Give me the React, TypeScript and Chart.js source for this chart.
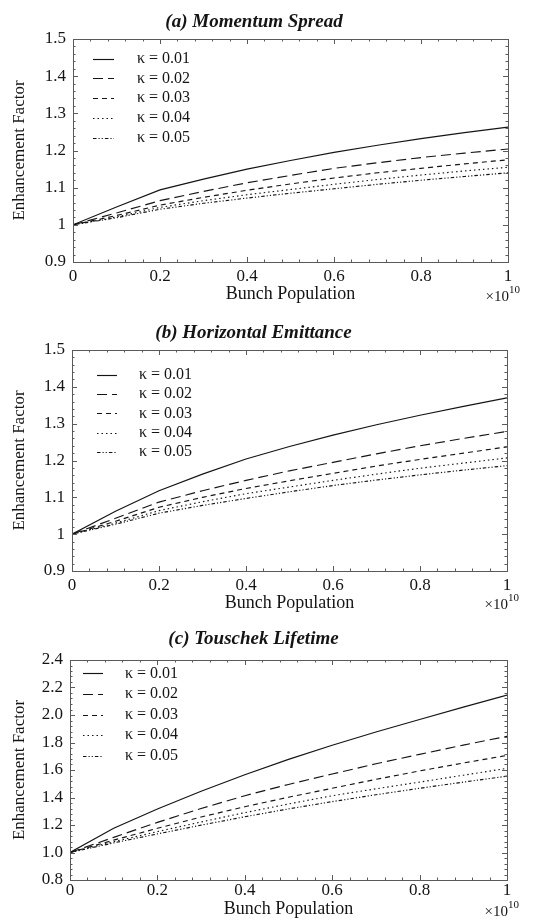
import React, { useEffect, useRef } from "react";
import { Chart, registerables } from "chart.js";

Chart.register(...registerables);

// ---------- data ----------
const bunchPopulation = [0, 0.1, 0.2, 0.3, 0.4, 0.5, 0.6, 0.7, 0.8, 0.9, 1.0];
const kappaLabels = ["κ = 0.01", "κ = 0.02", "κ = 0.03", "κ = 0.04", "κ = 0.05"];
const xTickLabels = ["0", "0.2", "0.4", "0.6", "0.8", "1"];
const yTickLabelsA = ["0.9", "1", "1.1", "1.2", "1.3", "1.4", "1.5"];
const yTickLabelsB = ["0.9", "1", "1.1", "1.2", "1.3", "1.4", "1.5"];
const yTickLabelsC = ["0.8", "1.0", "1.2", "1.4", "1.6", "1.8", "2.0", "2.2", "2.4"];

const momentumK1 = [1.0, 1.048, 1.094, 1.123, 1.15, 1.173, 1.195, 1.214, 1.232, 1.248, 1.263];
const momentumK2 = [1.0, 1.032, 1.065, 1.09, 1.113, 1.133, 1.152, 1.167, 1.181, 1.193, 1.204];
const momentumK3 = [1.0, 1.025, 1.053, 1.074, 1.093, 1.11, 1.126, 1.14, 1.152, 1.164, 1.175];
const momentumK4 = [1.0, 1.021, 1.047, 1.065, 1.081, 1.095, 1.109, 1.122, 1.134, 1.145, 1.155];
const momentumK5 = [1.0, 1.019, 1.042, 1.058, 1.072, 1.085, 1.097, 1.109, 1.12, 1.13, 1.14];

const emittanceK1 = [1.0, 1.062, 1.118, 1.163, 1.204, 1.238, 1.269, 1.297, 1.323, 1.347, 1.37];
const emittanceK2 = [1.0, 1.043, 1.087, 1.118, 1.146, 1.172, 1.195, 1.218, 1.24, 1.26, 1.279];
const emittanceK3 = [1.0, 1.035, 1.073, 1.1, 1.124, 1.145, 1.165, 1.185, 1.203, 1.22, 1.237];
const emittanceK4 = [1.0, 1.03, 1.064, 1.088, 1.11, 1.128, 1.146, 1.163, 1.179, 1.193, 1.207];
const emittanceK5 = [1.0, 1.027, 1.057, 1.078, 1.097, 1.115, 1.132, 1.147, 1.161, 1.174, 1.186];

const touschekK1 = [1.0, 1.176, 1.316, 1.445, 1.566, 1.677, 1.78, 1.876, 1.967, 2.057, 2.145];
const touschekK2 = [1.0, 1.11, 1.219, 1.32, 1.413, 1.495, 1.571, 1.645, 1.714, 1.781, 1.845];
const touschekK3 = [1.0, 1.09, 1.176, 1.258, 1.333, 1.402, 1.467, 1.532, 1.593, 1.651, 1.706];
const touschekK4 = [1.0, 1.078, 1.152, 1.222, 1.29, 1.353, 1.413, 1.463, 1.512, 1.562, 1.612];
const touschekK5 = [1.0, 1.07, 1.135, 1.199, 1.26, 1.317, 1.37, 1.42, 1.467, 1.512, 1.555];

// ---------- styles ----------
const SERIF = "'Liberation Serif', 'DejaVu Serif', serif";
const INK = "#141414";
const dashes: number[][] = [[], [10, 5], [5, 4], [1.5, 3], [3.5, 2, 1.2, 2, 1.2, 2]];

// ---------- plugins ----------
const frameTicksPlugin = {
  id: "frameTicks",
  afterDatasetsDraw(chart: any, _args: any, opts: any) {
    const { ctx, chartArea: a, scales } = chart;
    ctx.save();
    ctx.strokeStyle = opts.color || "#555";
    ctx.lineWidth = 1;
    ctx.strokeRect(Math.round(a.left) + 0.5, Math.round(a.top) + 0.5, Math.round(a.right - a.left), Math.round(a.bottom - a.top));
    const sub = opts.sub || 5;
    const major = opts.major || 5;
    const minor = opts.minor || 2.5;
    const run = (scale: any, horizontal: boolean) => {
      const vals = scale.ticks.map((t: any) => t.value);
      const mark = (v: number, len: number) => {
        ctx.beginPath();
        const p = Math.round(scale.getPixelForValue(v)) + 0.5;
        if (horizontal) {
          ctx.moveTo(p, a.bottom); ctx.lineTo(p, a.bottom - len);
          ctx.moveTo(p, a.top); ctx.lineTo(p, a.top + len);
        } else {
          ctx.moveTo(a.left, p); ctx.lineTo(a.left + len, p);
          ctx.moveTo(a.right, p); ctx.lineTo(a.right - len, p);
        }
        ctx.stroke();
      };
      for (let i = 0; i < vals.length; i++) {
        mark(vals[i], major);
        if (i < vals.length - 1) {
          const step = (vals[i + 1] - vals[i]) / sub;
          for (let k = 1; k < sub; k++) mark(vals[i] + k * step, minor);
        }
      }
    };
    run(scales.x, true);
    run(scales.y, false);
    ctx.restore();
  },
};

const innerLegendPlugin = {
  id: "innerLegend",
  afterDraw(chart: any, _args: any, opts: any) {
    const { ctx } = chart;
    ctx.save();
    chart.data.datasets.forEach((ds: any, i: number) => {
      const y = opts.y + i * opts.dy;
      ctx.strokeStyle = ds.borderColor;
      ctx.lineWidth = ds.borderWidth;
      ctx.setLineDash(ds.borderDash || []);
      ctx.beginPath();
      ctx.moveTo(opts.x1, Math.round(y) + 0.5);
      ctx.lineTo(opts.x2, Math.round(y) + 0.5);
      ctx.stroke();
      ctx.setLineDash([]);
      ctx.fillStyle = INK;
      ctx.font = `16px ${SERIF}`;
      ctx.textBaseline = "middle";
      ctx.textAlign = "left";
      ctx.fillText(ds.label, opts.textX, y);
    });
    ctx.restore();
  },
};

const exponentPlugin = {
  id: "exponent",
  afterDraw(chart: any, _args: any, opts: any) {
    const { ctx, chartArea: a } = chart;
    ctx.save();
    ctx.fillStyle = INK;
    ctx.textBaseline = "middle";
    ctx.font = `15px ${SERIF}`;
    ctx.textAlign = "right";
    ctx.fillText(opts.base, a.right + 1, a.bottom + opts.dy);
    ctx.font = `11px ${SERIF}`;
    ctx.textAlign = "left";
    ctx.fillText(opts.power, a.right + 1, a.bottom + opts.dy - 7);
    ctx.restore();
  },
};

// ---------- panels ----------
type PanelCfg = {
  top: number;
  height: number;
  title: string;
  series: number[][];
  yMin: number;
  yMax: number;
  yStep: number;
  yLabels: string[];
  plotLeft: number;
  plotRight: number;
  plotTop: number;
  plotBottom: number;
  axisHeight: number;
  titleCenter: number;
  tickPad: number;
  expDy: number;
  legend: { x1: number; x2: number; textX: number; y: number; dy: number };
};

const panels: PanelCfg[] = [
  {
    top: 0, height: 305, title: "(a) Momentum Spread",
    series: [momentumK1, momentumK2, momentumK3, momentumK4, momentumK5],
    yMin: 0.9, yMax: 1.5, yStep: 0.1, yLabels: yTickLabelsA,
    plotLeft: 73, plotRight: 508, plotTop: 39, plotBottom: 262, axisHeight: 43,
    titleCenter: 22, tickPad: 4.6, expDy: 35,
    legend: { x1: 93, x2: 114, textX: 137, y: 58.5, dy: 19.8 },
  },
  {
    top: 305, height: 310, title: "(b) Horizontal Emittance",
    series: [emittanceK1, emittanceK2, emittanceK3, emittanceK4, emittanceK5],
    yMin: 0.9, yMax: 1.5, yStep: 0.1, yLabels: yTickLabelsB,
    plotLeft: 72, plotRight: 507, plotTop: 45, plotBottom: 266, axisHeight: 43,
    titleCenter: 28, tickPad: 4.6, expDy: 34,
    legend: { x1: 97, x2: 117, textX: 139, y: 70, dy: 19.2 },
  },
  {
    top: 615, height: 305, title: "(c) Touschek Lifetime",
    series: [touschekK1, touschekK2, touschekK3, touschekK4, touschekK5],
    yMin: 0.8, yMax: 2.4, yStep: 0.2, yLabels: yTickLabelsC,
    plotLeft: 70, plotRight: 507, plotTop: 45, plotBottom: 265, axisHeight: 40,
    titleCenter: 24, tickPad: 0.8, expDy: 32,
    legend: { x1: 83, x2: 103, textX: 125, y: 58.3, dy: 20.6 },
  },
];

function Panel({ cfg }: { cfg: PanelCfg }) {
  const ref = useRef<HTMLCanvasElement | null>(null);
  useEffect(() => {
    if (!ref.current) return;
    const titleSize = 19;
    const titleLH = titleSize * 1.2;
    const titleTop = cfg.titleCenter - titleLH / 2;
    const titleBottom = cfg.plotTop - titleTop - titleLH;
    const chart = new Chart(ref.current, {
      type: "line",
      data: {
        datasets: cfg.series.map((s, i) => ({
          label: kappaLabels[i],
          data: s.map((v, j) => ({ x: bunchPopulation[j], y: v })),
          borderColor: INK,
          borderWidth: 1.15,
          borderDash: dashes[i],
          pointRadius: 0,
          tension: 0,
          fill: false,
        })),
      },
      options: {
        responsive: false,
        animation: false,
        events: [],
        layout: {
          padding: {
            left: 0,
            right: 533 - cfg.plotRight,
            top: 0,
            bottom: Math.max(0, cfg.height - cfg.plotBottom - cfg.axisHeight),
          },
        },
        plugins: {
          legend: { display: false },
          tooltip: { enabled: false },
          title: {
            display: true,
            text: cfg.title,
            color: INK,
            font: { family: SERIF, size: titleSize, weight: "bold", style: "italic", lineHeight: 1.2 },
            padding: { top: titleTop, bottom: titleBottom },
          },
          frameTicks: { color: "#5a5a5a", sub: 5, major: 5, minor: 2.5 },
          innerLegend: cfg.legend,
          exponent: { base: "×10", power: "10", dy: cfg.expDy },
        } as any,
        scales: {
          x: {
            type: "linear",
            min: 0,
            max: 1,
            grid: { display: false, drawTicks: false },
            border: { display: false },
            ticks: {
              stepSize: 0.2,
              autoSkip: false,
              maxRotation: 0,
              padding: cfg.tickPad,
              color: INK,
              font: { family: SERIF, size: 17, lineHeight: 1.2 },
              callback: (_v: any, i: number) => xTickLabels[i],
            },
            title: {
              display: true,
              text: "Bunch Population",
              color: INK,
              font: { family: SERIF, size: 18, lineHeight: 1.2 },
              padding: 0,
            },
            afterFit: (s: any) => { s.height = cfg.axisHeight; },
          },
          y: {
            type: "linear",
            min: cfg.yMin,
            max: cfg.yMax,
            grid: { display: false, drawTicks: false },
            border: { display: false },
            ticks: {
              stepSize: cfg.yStep,
              autoSkip: false,
              padding: 7,
              color: INK,
              font: { family: SERIF, size: 17, lineHeight: 1.2 },
              callback: (_v: any, i: number) => cfg.yLabels[i],
            },
            title: {
              display: true,
              text: "Enhancement Factor",
              color: INK,
              font: { family: SERIF, size: 17, lineHeight: 1.2 },
              padding: { top: 9, bottom: 0 },
            },
            afterFit: (s: any) => { s.width = cfg.plotLeft; },
          },
        },
      } as any,
      plugins: [frameTicksPlugin, innerLegendPlugin, exponentPlugin],
    });
    return () => chart.destroy();
  }, [cfg]);
  return (
    <canvas
      ref={ref}
      width={533}
      height={cfg.height}
      style={{ position: "absolute", left: 0, top: cfg.top, width: 533, height: cfg.height, display: "block" }}
    />
  );
}

export default function App() {
  return (
    <div style={{ position: "absolute", left: 0, top: 0, width: 533, height: 919, overflow: "hidden", background: "#fff" }}>
      {panels.map((p, i) => (
        <Panel key={i} cfg={p} />
      ))}
    </div>
  );
}
